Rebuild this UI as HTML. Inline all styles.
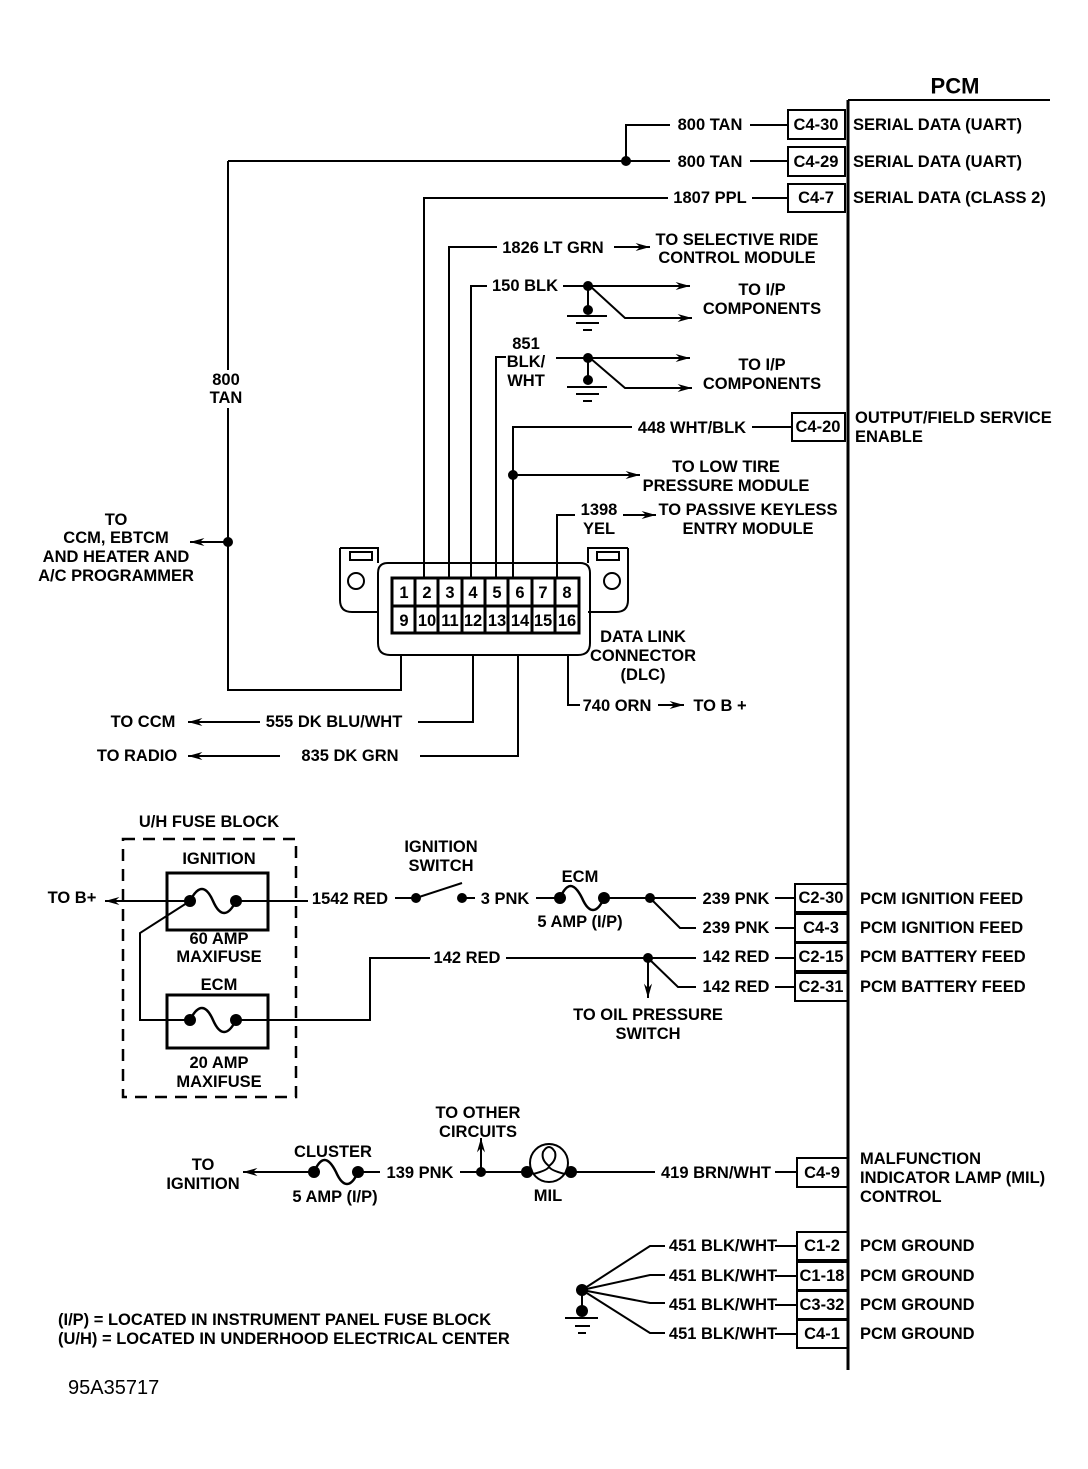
<!DOCTYPE html>
<html><head><meta charset="utf-8"><style>
html,body{margin:0;padding:0;background:#fff;}
svg{display:block;}
text{font-family:"Liberation Sans",Arial,sans-serif;font-weight:bold;font-size:16.5px;fill:#000;}
</style></head><body>
<svg width="1088" height="1469" viewBox="0 0 1088 1469" xmlns="http://www.w3.org/2000/svg">
<defs>
<marker id="ar" viewBox="0 0 16 10" refX="16" refY="5" markerWidth="16" markerHeight="9" orient="auto" markerUnits="userSpaceOnUse"><path d="M0,0.5 L16,5 L0,9.5 L5,5z" fill="#000"/></marker>
</defs>
<g stroke="#000" stroke-width="2" fill="none">
<line x1="848" y1="100" x2="848" y2="1370" stroke-width="3"/>
<line x1="848" y1="100" x2="1050" y2="100"/>
<rect x="788" y="110" width="57" height="29"/>
<rect x="788" y="147" width="57" height="29"/>
<rect x="788" y="184" width="57" height="28"/>
<rect x="792" y="413" width="53" height="28"/>
<rect x="795" y="884" width="53" height="28"/>
<rect x="795" y="914" width="53" height="28"/>
<rect x="795" y="943" width="53" height="28"/>
<rect x="795" y="973" width="53" height="28"/>
<rect x="797" y="1158" width="51" height="29"/>
<rect x="797" y="1232" width="51" height="28"/>
<rect x="797" y="1262" width="51" height="28"/>
<rect x="797" y="1291" width="51" height="28"/>
<rect x="797" y="1320" width="51" height="28"/>
<polyline points="670,125 626,125 626,161"/>
<line x1="750" y1="125" x2="788" y2="125"/>
<line x1="228" y1="161" x2="670" y2="161"/>
<line x1="750" y1="161" x2="788" y2="161"/>
<polyline points="228,161 228,690 401,690 401,655"/>
<line x1="228" y1="542" x2="190" y2="542" marker-end="url(#ar)"/>
<polyline points="668,198 424,198 424,578"/>
<line x1="752" y1="198" x2="788" y2="198"/>
<polyline points="497,247 449,247 449,578"/>
<line x1="614" y1="247" x2="650" y2="247" marker-end="url(#ar)"/>
<polyline points="487,286 471,286 471,578"/>
<line x1="563" y1="286" x2="690" y2="286" marker-end="url(#ar)"/>
<polyline points="590,286 625,318 692,318" marker-end="url(#ar)"/>
<line x1="588" y1="286" x2="588" y2="310"/>
<line x1="567" y1="316" x2="607" y2="316"/><line x1="576" y1="323" x2="599" y2="323"/><line x1="583" y1="330" x2="592" y2="330"/>
<polyline points="506,357 496,357 496,578"/>
<line x1="556" y1="358" x2="690" y2="358" marker-end="url(#ar)"/>
<polyline points="590,358 625,388 692,388" marker-end="url(#ar)"/>
<line x1="588" y1="358" x2="588" y2="380"/>
<line x1="567" y1="387" x2="607" y2="387"/><line x1="576" y1="394" x2="599" y2="394"/><line x1="583" y1="401" x2="592" y2="401"/>
<polyline points="632,427 513,427 513,578"/>
<line x1="752" y1="427" x2="792" y2="427"/>
<line x1="513" y1="475" x2="640" y2="475" marker-end="url(#ar)"/>
<polyline points="575,515 557,515 557,578"/>
<line x1="623" y1="515" x2="656" y2="515" marker-end="url(#ar)"/>
<path d="M340,548 h38 v15 M340,548 v52 q0,12 12,12 h26" />
<rect x="350" y="552" width="22" height="8"/>
<circle cx="356" cy="581" r="8"/>
<path d="M628,548 h-40 v15 M628,548 v52 q0,12 -12,12 h-28"/>
<rect x="597" y="552" width="22" height="8"/>
<circle cx="612" cy="581" r="8"/>
<path d="M388,563 h192 q10,0 10,10 v70 q0,12 -12,12 h-188 q-12,0 -12,-12 v-70 q0,-10 10,-10z"/>
<rect x="392" y="578" width="187" height="55" stroke-width="3"/>
<line x1="392" y1="606" x2="579" y2="606" stroke-width="3"/>
<g stroke-width="3">
<line x1="415" y1="578" x2="415" y2="633"/><line x1="438" y1="578" x2="438" y2="633"/><line x1="462" y1="578" x2="462" y2="633"/><line x1="485" y1="578" x2="485" y2="633"/><line x1="508" y1="578" x2="508" y2="633"/><line x1="532" y1="578" x2="532" y2="633"/><line x1="555" y1="578" x2="555" y2="633"/>
</g>
<polyline points="473,655 473,722 418,722"/>
<line x1="260" y1="722" x2="188" y2="722" marker-end="url(#ar)"/>
<polyline points="518,655 518,756 420,756"/>
<line x1="280" y1="756" x2="188" y2="756" marker-end="url(#ar)"/>
<polyline points="568,655 568,705 580,705"/>
<line x1="658" y1="705" x2="684" y2="705" marker-end="url(#ar)"/>
<rect x="123" y="839" width="173" height="258" stroke-dasharray="12,8" stroke-width="2.5"/>
<rect x="167" y="873" width="101" height="57" stroke-width="3"/>
<rect x="167" y="995" width="101" height="53" stroke-width="3"/>
<line x1="190" y1="901" x2="105" y2="901" marker-end="url(#ar)"/>
<line x1="236" y1="901" x2="308" y2="901"/>
<path d="M190,901 c8,-16 16,-16 23,0 c7,16 15,16 23,0" stroke-width="2.5"/>
<path d="M190,1020 c8,-16 16,-16 23,0 c7,16 15,16 23,0" stroke-width="2.5"/>
<polyline points="190,901 140,933 140,1020 190,1020"/>
<polyline points="236,1020 370,1020 370,958 430,958"/>
<line x1="506" y1="958" x2="696" y2="958"/>
<line x1="775" y1="958" x2="795" y2="958"/>
<line x1="648" y1="958" x2="648" y2="998" marker-end="url(#ar)"/>
<polyline points="648,958 678,987 696,987"/>
<line x1="775" y1="987" x2="795" y2="987"/>
<line x1="395" y1="898" x2="416" y2="898"/>
<line x1="416" y1="898" x2="462" y2="883"/>
<line x1="462" y1="898" x2="475" y2="898"/>
<line x1="536" y1="898" x2="560" y2="898"/>
<path d="M560,898 c7,-16 14,-16 22,0 c7,16 15,16 22,0" stroke-width="2.5"/>
<line x1="604" y1="898" x2="696" y2="898"/>
<line x1="775" y1="898" x2="795" y2="898"/>
<polyline points="650,898 680,928 696,928"/>
<line x1="775" y1="928" x2="795" y2="928"/>
<line x1="314" y1="1172" x2="243" y2="1172" marker-end="url(#ar)"/>
<path d="M314,1172 c7,-16 14,-16 22,0 c7,16 15,16 22,0" stroke-width="2.5"/>
<line x1="358" y1="1172" x2="380" y2="1172"/>
<line x1="460" y1="1172" x2="527" y2="1172"/>
<line x1="481" y1="1172" x2="481" y2="1138" marker-end="url(#ar)"/>
<circle cx="549" cy="1163" r="19"/>
<path d="M533,1174 q16,-4 16,-8 q-8,-6 -6,-14 q6,-10 12,0 q2,8 -6,14 q0,4 16,8"/>
<line x1="571" y1="1172" x2="655" y2="1172"/>
<line x1="775" y1="1172" x2="797" y2="1172"/>
<polyline points="582,1290 650,1246 665,1246"/>
<polyline points="582,1290 650,1275 665,1275"/>
<polyline points="582,1290 650,1303 665,1303"/>
<polyline points="582,1290 650,1333 665,1333"/>
<line x1="775" y1="1246" x2="797" y2="1246"/>
<line x1="775" y1="1276" x2="797" y2="1276"/>
<line x1="775" y1="1305" x2="797" y2="1305"/>
<line x1="775" y1="1334" x2="797" y2="1334"/>
<line x1="582" y1="1290" x2="582" y2="1311"/>
<line x1="565" y1="1318" x2="598" y2="1318"/><line x1="575" y1="1326" x2="590" y2="1326"/><line x1="578" y1="1333" x2="586" y2="1333"/>
</g>
<g fill="#000">
<circle cx="626" cy="161" r="5"/><circle cx="228" cy="542" r="5"/>
<circle cx="588" cy="286" r="5"/><circle cx="588" cy="310" r="5"/>
<circle cx="588" cy="358" r="5"/><circle cx="588" cy="380" r="5"/>
<circle cx="513" cy="475" r="5"/>
<circle cx="190" cy="901" r="6"/><circle cx="236" cy="901" r="6"/>
<circle cx="190" cy="1020" r="6"/><circle cx="236" cy="1020" r="6"/>
<circle cx="416" cy="898" r="5"/><circle cx="462" cy="898" r="5"/>
<circle cx="560" cy="898" r="6"/><circle cx="604" cy="898" r="6"/>
<circle cx="650" cy="898" r="5"/><circle cx="648" cy="958" r="5"/>
<circle cx="314" cy="1172" r="6"/><circle cx="358" cy="1172" r="6"/>
<circle cx="481" cy="1172" r="5"/><circle cx="527" cy="1172" r="6"/><circle cx="571" cy="1172" r="6"/>
<circle cx="582" cy="1290" r="6"/><circle cx="582" cy="1311" r="6"/>
</g>
<g dominant-baseline="central">
<text x="955" y="86" text-anchor="middle" style="font-size:22px">PCM</text>
<g style="font-size:15px">
<text x="816" y="125" text-anchor="middle">C4-30</text>
<text x="816" y="162" text-anchor="middle">C4-29</text>
<text x="816" y="198" text-anchor="middle">C4-7</text>
<text x="818" y="427" text-anchor="middle">C4-20</text>
<text x="821" y="898" text-anchor="middle">C2-30</text>
<text x="821" y="928" text-anchor="middle">C4-3</text>
<text x="821" y="957" text-anchor="middle">C2-15</text>
<text x="821" y="987" text-anchor="middle">C2-31</text>
<text x="822" y="1173" text-anchor="middle">C4-9</text>
<text x="822" y="1246" text-anchor="middle">C1-2</text>
<text x="822" y="1276" text-anchor="middle">C1-18</text>
<text x="822" y="1305" text-anchor="middle">C3-32</text>
<text x="822" y="1334" text-anchor="middle">C4-1</text>
</g>
<text x="853" y="125">SERIAL DATA (UART)</text>
<text x="853" y="162">SERIAL DATA (UART)</text>
<text x="853" y="198">SERIAL DATA (CLASS 2)</text>
<text x="855" y="418">OUTPUT/FIELD SERVICE</text>
<text x="855" y="437">ENABLE</text>
<text x="860" y="899">PCM IGNITION FEED</text>
<text x="860" y="928">PCM IGNITION FEED</text>
<text x="860" y="957">PCM BATTERY FEED</text>
<text x="860" y="987">PCM BATTERY FEED</text>
<text x="860" y="1159">MALFUNCTION</text>
<text x="860" y="1178">INDICATOR LAMP (MIL)</text>
<text x="860" y="1197">CONTROL</text>
<text x="860" y="1246">PCM GROUND</text>
<text x="860" y="1276">PCM GROUND</text>
<text x="860" y="1305">PCM GROUND</text>
<text x="860" y="1334">PCM GROUND</text>
<text x="710" y="125" text-anchor="middle">800 TAN</text>
<text x="710" y="162" text-anchor="middle">800 TAN</text>
<text x="710" y="198" text-anchor="middle">1807 PPL</text>
<rect x="204" y="370" width="46" height="38" fill="#fff"/>
<text x="226" y="380" text-anchor="middle">800</text>
<text x="226" y="398" text-anchor="middle">TAN</text>
<text x="553" y="248" text-anchor="middle">1826 LT GRN</text>
<text x="737" y="240" text-anchor="middle">TO SELECTIVE RIDE</text>
<text x="737" y="258" text-anchor="middle">CONTROL MODULE</text>
<text x="525" y="286" text-anchor="middle">150 BLK</text>
<text x="762" y="290" text-anchor="middle">TO I/P</text>
<text x="762" y="309" text-anchor="middle">COMPONENTS</text>
<text x="526" y="344" text-anchor="middle">851</text>
<text x="526" y="362" text-anchor="middle">BLK/</text>
<text x="526" y="381" text-anchor="middle">WHT</text>
<text x="762" y="365" text-anchor="middle">TO I/P</text>
<text x="762" y="384" text-anchor="middle">COMPONENTS</text>
<text x="692" y="428" text-anchor="middle">448 WHT/BLK</text>
<text x="726" y="467" text-anchor="middle">TO LOW TIRE</text>
<text x="726" y="486" text-anchor="middle">PRESSURE MODULE</text>
<text x="599" y="510" text-anchor="middle">1398</text>
<text x="599" y="529" text-anchor="middle">YEL</text>
<text x="748" y="510" text-anchor="middle">TO PASSIVE KEYLESS</text>
<text x="748" y="529" text-anchor="middle">ENTRY MODULE</text>
<text x="116" y="520" text-anchor="middle">TO</text>
<text x="116" y="538" text-anchor="middle">CCM, EBTCM</text>
<text x="116" y="557" text-anchor="middle">AND HEATER AND</text>
<text x="116" y="576" text-anchor="middle">A/C PROGRAMMER</text>
<g text-anchor="middle" style="font-size:14px">
<text x="404" y="593">1</text><text x="427" y="593">2</text><text x="450" y="593">3</text><text x="473" y="593">4</text><text x="497" y="593">5</text><text x="520" y="593">6</text><text x="543" y="593">7</text><text x="567" y="593">8</text>
<text x="404" y="621">9</text><text x="427" y="621">10</text><text x="450" y="621">11</text><text x="473" y="621">12</text><text x="497" y="621">13</text><text x="520" y="621">14</text><text x="543" y="621">15</text><text x="567" y="621">16</text>
</g>
<text x="643" y="637" text-anchor="middle">DATA LINK</text>
<text x="643" y="656" text-anchor="middle">CONNECTOR</text>
<text x="643" y="675" text-anchor="middle">(DLC)</text>
<text x="617" y="706" text-anchor="middle">740 ORN</text>
<text x="720" y="706" text-anchor="middle">TO B +</text>
<text x="334" y="722" text-anchor="middle">555 DK BLU/WHT</text>
<text x="143" y="722" text-anchor="middle">TO CCM</text>
<text x="350" y="756" text-anchor="middle">835 DK GRN</text>
<text x="137" y="756" text-anchor="middle">TO RADIO</text>
<text x="209" y="822" text-anchor="middle">U/H FUSE BLOCK</text>
<text x="219" y="859" text-anchor="middle">IGNITION</text>
<text x="219" y="939" text-anchor="middle">60 AMP</text>
<text x="219" y="957" text-anchor="middle">MAXIFUSE</text>
<text x="219" y="985" text-anchor="middle">ECM</text>
<text x="219" y="1063" text-anchor="middle">20 AMP</text>
<text x="219" y="1082" text-anchor="middle">MAXIFUSE</text>
<text x="72" y="898" text-anchor="middle">TO B+</text>
<text x="350" y="899" text-anchor="middle">1542 RED</text>
<text x="441" y="847" text-anchor="middle">IGNITION</text>
<text x="441" y="866" text-anchor="middle">SWITCH</text>
<text x="505" y="899" text-anchor="middle">3 PNK</text>
<text x="580" y="877" text-anchor="middle">ECM</text>
<text x="580" y="922" text-anchor="middle">5 AMP (I/P)</text>
<text x="736" y="899" text-anchor="middle">239 PNK</text>
<text x="736" y="928" text-anchor="middle">239 PNK</text>
<text x="467" y="958" text-anchor="middle">142 RED</text>
<text x="736" y="957" text-anchor="middle">142 RED</text>
<text x="736" y="987" text-anchor="middle">142 RED</text>
<text x="648" y="1015" text-anchor="middle">TO OIL PRESSURE</text>
<text x="648" y="1034" text-anchor="middle">SWITCH</text>
<text x="478" y="1113" text-anchor="middle">TO OTHER</text>
<text x="478" y="1132" text-anchor="middle">CIRCUITS</text>
<text x="333" y="1152" text-anchor="middle">CLUSTER</text>
<text x="335" y="1197" text-anchor="middle">5 AMP (I/P)</text>
<text x="203" y="1165" text-anchor="middle">TO</text>
<text x="203" y="1184" text-anchor="middle">IGNITION</text>
<text x="420" y="1173" text-anchor="middle">139 PNK</text>
<text x="548" y="1196" text-anchor="middle">MIL</text>
<text x="716" y="1173" text-anchor="middle">419 BRN/WHT</text>
<text x="723" y="1246" text-anchor="middle">451 BLK/WHT</text>
<text x="723" y="1276" text-anchor="middle">451 BLK/WHT</text>
<text x="723" y="1305" text-anchor="middle">451 BLK/WHT</text>
<text x="723" y="1334" text-anchor="middle">451 BLK/WHT</text>
<text x="58" y="1320">(I/P) = LOCATED IN INSTRUMENT PANEL FUSE BLOCK</text>
<text x="58" y="1339">(U/H) = LOCATED IN UNDERHOOD ELECTRICAL CENTER</text>
<text x="68" y="1388" style="font-weight:normal;font-size:20px">95A35717</text>
</g>
</svg>
</body></html>
